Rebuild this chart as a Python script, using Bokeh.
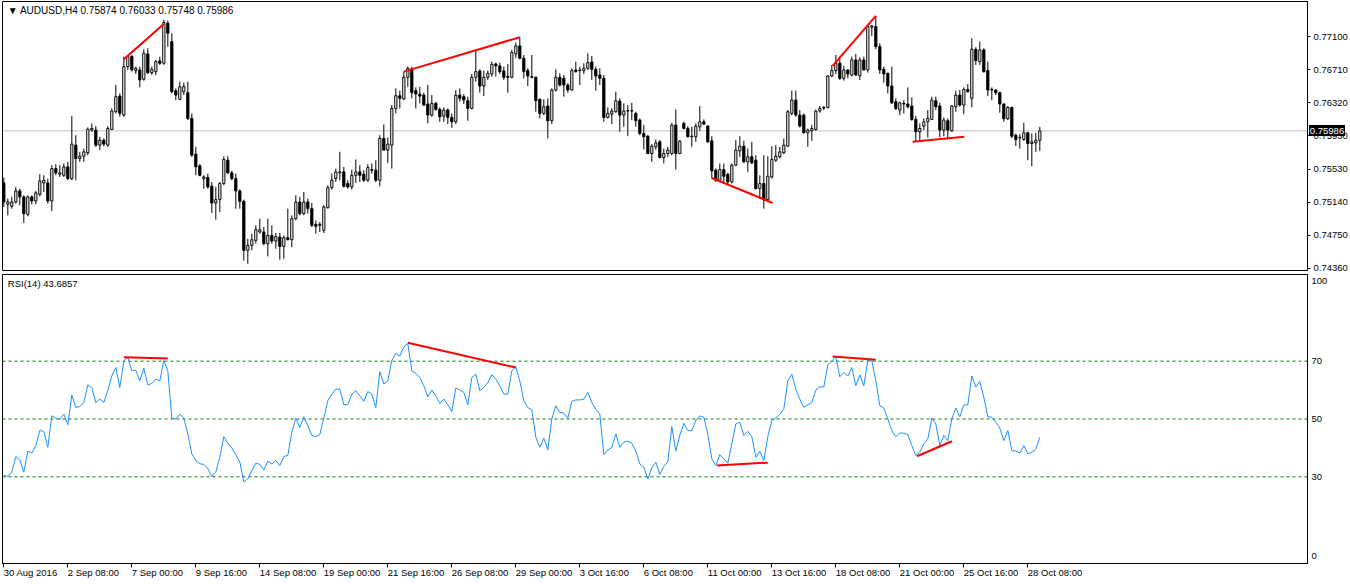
from bokeh.plotting import figure
from bokeh.models import (Range1d, FixedTicker, Span, Label, ColumnDataSource, GridBox, Div)
from bokeh.embed import file_html
from bokeh.resources import INLINE

# ---------------- data ----------------
symbol_title = "\u25BC AUDUSD,H4  0.75874 0.76033 0.75748 0.75986"
rsi_title = "RSI(14) 43.6857"
last_price = 0.75986
last_price_text = "0.75986"

date_tick_bars = [0, 16, 32, 48, 64, 80, 96, 112, 128, 144, 160, 176, 192, 208, 224, 240, 256]
date_labels = ["30 Aug 2016", "2 Sep 08:00", "7 Sep 00:00", "9 Sep 16:00", "14 Sep 08:00",
               "19 Sep 00:00", "21 Sep 16:00", "26 Sep 08:00", "29 Sep 00:00", "3 Oct 16:00",
               "6 Oct 08:00", "11 Oct 00:00", "13 Oct 16:00", "18 Oct 08:00", "21 Oct 00:00",
               "25 Oct 16:00", "28 Oct 08:00"]

price_ticks = [0.74360, 0.74750, 0.75140, 0.75530, 0.75930, 0.76320, 0.76710, 0.77100]
price_tick_labels = ["0.74360", "0.74750", "0.75140", "0.75530", "0.75930", "0.76320", "0.76710", "0.77100"]

rsi_levels = [30, 50, 70]
rsi_ticks = [2.5, 30, 50, 70, 97.6]
rsi_tick_labels = ["0", "30", "50", "70", "100"]

open_ = [0.75370,0.75118,0.75094,0.75145,0.75276,0.75205,0.74999,0.75205,0.75157,0.75236,
0.75370,0.75370,0.75157,0.75540,0.75473,0.75461,0.75560,0.75422,0.75817,0.75659,
0.75686,0.75726,0.75995,0.75995,0.75817,0.75876,0.75817,0.76002,0.76212,0.76397,
0.76172,0.76745,0.76864,0.76698,0.76706,0.76595,0.76895,0.76674,0.76686,0.76812,
0.76785,0.77259,0.77041,0.76461,0.76358,0.76449,0.76437,0.76133,0.75710,0.75572,
0.75422,0.75433,0.75331,0.75133,0.75173,0.75363,0.75639,0.75489,0.75422,0.75276,
0.75153,0.74573,0.74632,0.74691,0.74790,0.74790,0.74652,0.74750,0.74683,0.74731,
0.74620,0.74723,0.74699,0.74948,0.75145,0.75007,0.75145,0.75066,0.74881,0.74869,
0.74810,0.75078,0.75315,0.75422,0.75489,0.75501,0.75363,0.75323,0.75461,0.75501,
0.75473,0.75402,0.75528,0.75521,0.75402,0.75896,0.75758,0.75817,0.76251,0.76401,
0.76362,0.76619,0.76717,0.76461,0.76421,0.76409,0.76303,0.76172,0.76311,0.76239,
0.76160,0.76232,0.76145,0.76093,0.76409,0.76390,0.76342,0.76251,0.76619,0.76694,
0.76516,0.76619,0.76658,0.76777,0.76753,0.76694,0.76627,0.76619,0.76895,0.76990,
0.76844,0.76698,0.76627,0.76619,0.76358,0.76192,0.76279,0.76105,0.76469,0.76619,
0.76607,0.76528,0.76469,0.76706,0.76698,0.76698,0.76725,0.76800,0.76713,0.76646,
0.76607,0.76145,0.76184,0.76212,0.76338,0.76172,0.76224,0.76220,0.76192,0.76113,
0.75955,0.75923,0.75718,0.75797,0.75856,0.75671,0.75718,0.75718,0.76054,0.75718,
0.76074,0.76014,0.75916,0.75916,0.76034,0.76093,0.76042,0.75868,0.75521,0.75402,
0.75528,0.75473,0.75382,0.75580,0.75750,0.75805,0.75619,0.75679,0.75639,0.75303,
0.75363,0.75173,0.75441,0.75639,0.75679,0.75726,0.75805,0.76192,0.76350,0.76172,
0.76172,0.75963,0.75987,0.76002,0.76220,0.76255,0.76263,0.76634,0.76698,0.76785,
0.76607,0.76706,0.76646,0.76824,0.76638,0.76824,0.76706,0.77210,0.77218,0.76982,
0.76713,0.76666,0.76516,0.76330,0.76232,0.76311,0.76303,0.76279,0.76121,0.75975,
0.76042,0.76093,0.76121,0.76342,0.76279,0.75995,0.76105,0.75987,0.76271,0.76409,
0.76291,0.76476,0.76370,0.76950,0.76804,0.76943,0.76698,0.76469,0.76469,0.76437,
0.76303,0.76129,0.76263,0.75935,0.75908,0.75884,0.75963,0.75836,0.75844,0.75874]

high = [0.75433,0.75185,0.75205,0.75323,0.75303,0.75224,0.75224,0.75224,0.75276,0.75473,
0.75461,0.75422,0.75580,0.75592,0.75580,0.75600,0.75619,0.76160,0.75935,0.75738,
0.75777,0.76026,0.76074,0.76042,0.75916,0.75896,0.76042,0.76251,0.76528,0.76429,
0.76864,0.76883,0.76883,0.76745,0.76745,0.76950,0.76962,0.76745,0.76824,0.76864,
0.77298,0.77290,0.77140,0.76488,0.76567,0.76555,0.76567,0.76192,0.75797,0.75592,
0.75461,0.75481,0.75382,0.75323,0.75382,0.75686,0.75686,0.75513,0.75481,0.75295,
0.75173,0.74711,0.74770,0.74869,0.74948,0.74849,0.74948,0.74869,0.74778,0.74778,
0.74750,0.75066,0.74987,0.75224,0.75205,0.75264,0.75185,0.75133,0.74928,0.74908,
0.75106,0.75343,0.75481,0.75540,0.75738,0.75560,0.75402,0.75528,0.75647,0.75580,
0.75521,0.75592,0.75600,0.75639,0.75935,0.76062,0.75908,0.76291,0.76488,0.76461,
0.76686,0.76745,0.76745,0.76500,0.76508,0.76437,0.76528,0.76409,0.76330,0.76263,
0.76263,0.76251,0.76192,0.76469,0.76488,0.76421,0.76390,0.76658,0.76950,0.76713,
0.76698,0.76698,0.76804,0.76792,0.76792,0.76745,0.76777,0.76943,0.77029,0.77093,
0.76883,0.76725,0.76883,0.76627,0.76370,0.76358,0.76370,0.76488,0.76713,0.76666,
0.76646,0.76548,0.76725,0.76804,0.76745,0.76785,0.76903,0.76871,0.76745,0.76725,
0.76646,0.76263,0.76251,0.76449,0.76370,0.76311,0.76291,0.76318,0.76212,0.76133,
0.76054,0.75935,0.75829,0.75884,0.75876,0.75777,0.75797,0.76081,0.76239,0.75876,
0.76093,0.76042,0.76034,0.76074,0.76279,0.76121,0.76054,0.75923,0.75540,0.75600,
0.75600,0.75489,0.75600,0.75876,0.75923,0.75868,0.75777,0.75856,0.75698,0.75461,
0.75698,0.75686,0.75805,0.75817,0.75797,0.75896,0.76232,0.76461,0.76461,0.76232,
0.76192,0.76014,0.76054,0.76239,0.76279,0.76279,0.76646,0.76765,0.76883,0.76844,
0.76753,0.76713,0.76864,0.76895,0.76856,0.76864,0.77226,0.77238,0.77345,0.77021,
0.76745,0.76674,0.76745,0.76370,0.76330,0.76350,0.76500,0.76382,0.76160,0.76074,
0.76133,0.76232,0.76390,0.76390,0.76318,0.76145,0.76133,0.76291,0.76461,0.76469,
0.76500,0.76540,0.77081,0.76974,0.77041,0.76962,0.76804,0.76500,0.76476,0.76449,
0.76311,0.76279,0.76271,0.75955,0.75947,0.76081,0.75975,0.75955,0.75963,0.76033]

low = [0.75086,0.74987,0.75066,0.75126,0.75106,0.74896,0.74975,0.75118,0.75118,0.75212,
0.75264,0.75126,0.75039,0.75461,0.75441,0.75441,0.75402,0.75402,0.75402,0.75619,
0.75619,0.75698,0.75975,0.75797,0.75758,0.75805,0.75797,0.75995,0.76192,0.76153,
0.76153,0.76706,0.76686,0.76658,0.76500,0.76579,0.76658,0.76646,0.76646,0.76765,
0.76765,0.76982,0.76429,0.76350,0.76350,0.76409,0.76113,0.75679,0.75461,0.75449,
0.75303,0.75303,0.75015,0.74936,0.75027,0.75343,0.75481,0.75402,0.75066,0.75066,
0.74454,0.74415,0.74573,0.74652,0.74770,0.74632,0.74501,0.74652,0.74592,0.74462,
0.74474,0.74691,0.74612,0.74928,0.74987,0.74987,0.75007,0.74849,0.74770,0.74790,
0.74778,0.75066,0.75291,0.75382,0.75402,0.75315,0.75303,0.75291,0.75370,0.75382,
0.75382,0.75382,0.75481,0.75382,0.75331,0.75758,0.75607,0.75540,0.76192,0.76251,
0.76350,0.76508,0.76370,0.76251,0.76311,0.76279,0.76074,0.76153,0.76224,0.76093,
0.76093,0.76066,0.76022,0.76066,0.76330,0.76303,0.76105,0.76239,0.76567,0.76437,
0.76397,0.76587,0.76627,0.76627,0.76658,0.76587,0.76437,0.76607,0.76844,0.76832,
0.76607,0.76516,0.76607,0.76212,0.76133,0.76172,0.75896,0.76066,0.76449,0.76508,
0.76390,0.76437,0.76461,0.76674,0.76528,0.76658,0.76706,0.76587,0.76461,0.76528,
0.76093,0.76133,0.76066,0.76200,0.75975,0.76034,0.75923,0.76113,0.76034,0.75935,
0.75765,0.75710,0.75619,0.75765,0.75659,0.75600,0.75679,0.75698,0.75528,0.75710,
0.76002,0.75908,0.75797,0.75856,0.75987,0.76054,0.75844,0.75422,0.75382,0.75382,
0.75363,0.75343,0.75363,0.75568,0.75679,0.75607,0.75501,0.75592,0.75291,0.75185,
0.75066,0.75165,0.75422,0.75619,0.75659,0.75710,0.75797,0.76172,0.76153,0.76026,
0.75955,0.75797,0.75868,0.75987,0.76200,0.76231,0.76251,0.76619,0.76658,0.76587,
0.76579,0.76607,0.76627,0.76634,0.76587,0.76698,0.76674,0.77108,0.76950,0.76658,
0.76555,0.76429,0.76303,0.76232,0.76172,0.76192,0.76251,0.76105,0.75856,0.75868,
0.75995,0.75908,0.76113,0.76232,0.75908,0.75923,0.75896,0.75975,0.76212,0.76271,
0.76184,0.76437,0.76263,0.76765,0.76765,0.76674,0.76397,0.76350,0.76409,0.76200,
0.76093,0.76113,0.75896,0.75805,0.75777,0.75868,0.75639,0.75568,0.75738,0.75748]

close = [0.75145,0.75145,0.75145,0.75276,0.75205,0.75007,0.75205,0.75157,0.75252,0.75394,
0.75402,0.75157,0.75540,0.75489,0.75489,0.75560,0.75422,0.75829,0.75659,0.75686,
0.75738,0.76006,0.76014,0.75817,0.75876,0.75829,0.76014,0.76220,0.76390,0.76192,
0.76745,0.76864,0.76706,0.76725,0.76587,0.76903,0.76674,0.76713,0.76804,0.76785,
0.77266,0.77140,0.76449,0.76409,0.76508,0.76508,0.76133,0.75698,0.75560,0.75461,
0.75441,0.75323,0.75133,0.75173,0.75363,0.75647,0.75489,0.75422,0.75276,0.75153,
0.74573,0.74632,0.74699,0.74817,0.74817,0.74652,0.74750,0.74683,0.74738,0.74620,
0.74723,0.74699,0.74948,0.75145,0.75007,0.75145,0.75066,0.74869,0.74857,0.74881,
0.75086,0.75315,0.75402,0.75501,0.75501,0.75331,0.75323,0.75461,0.75501,0.75461,
0.75402,0.75552,0.75521,0.75402,0.75896,0.75758,0.75829,0.76251,0.76401,0.76370,
0.76619,0.76725,0.76437,0.76421,0.76397,0.76291,0.76172,0.76311,0.76239,0.76153,
0.76232,0.76145,0.76093,0.76409,0.76370,0.76350,0.76251,0.76619,0.76686,0.76516,
0.76619,0.76666,0.76773,0.76753,0.76686,0.76619,0.76619,0.76911,0.76990,0.76844,
0.76686,0.76634,0.76619,0.76342,0.76192,0.76271,0.76105,0.76469,0.76619,0.76528,
0.76528,0.76469,0.76698,0.76686,0.76706,0.76725,0.76792,0.76713,0.76634,0.76607,
0.76145,0.76192,0.76220,0.76342,0.76172,0.76220,0.76220,0.76224,0.76105,0.75955,
0.75916,0.75718,0.75805,0.75844,0.75671,0.75718,0.75758,0.76054,0.75718,0.75864,
0.76014,0.75916,0.75923,0.76042,0.76093,0.76066,0.75856,0.75513,0.75402,0.75528,
0.75449,0.75382,0.75580,0.75758,0.75805,0.75619,0.75679,0.75607,0.75303,0.75363,
0.75173,0.75449,0.75647,0.75686,0.75738,0.75817,0.76212,0.76350,0.76172,0.76042,
0.75963,0.75995,0.76014,0.76220,0.76251,0.76263,0.76634,0.76698,0.76785,0.76607,
0.76706,0.76658,0.76824,0.76646,0.76824,0.76706,0.77218,0.77226,0.76982,0.76706,
0.76658,0.76516,0.76318,0.76251,0.76318,0.76303,0.76271,0.76121,0.75975,0.76014,
0.76093,0.76133,0.76350,0.76271,0.75995,0.76113,0.75995,0.76279,0.76409,0.76291,
0.76476,0.76449,0.76950,0.76816,0.76943,0.76686,0.76469,0.76476,0.76437,0.76303,
0.76129,0.76263,0.75923,0.75884,0.75904,0.75963,0.75836,0.75856,0.75876,0.75986]

rsi = [30.5,30.1,31.6,37.0,35.9,31.6,38.9,38.2,40.8,46.0,
45.7,40.2,51.1,50.3,49.8,51.7,48.0,58.3,54.0,54.3,
55.7,61.8,60.9,55.7,56.9,55.7,59.8,64.9,67.8,60.9,
70.1,71.3,66.7,66.9,63.2,67.6,61.8,62.3,63.8,63.2,
70.3,66.7,50.3,50.0,51.7,50.3,44.8,37.9,35.6,34.5,
34.3,32.8,30.1,31.6,36.8,43.9,41.6,40.0,37.7,35.1,
28.2,29.3,32.2,34.7,34.3,32.4,35.4,34.5,35.6,33.9,
37.0,37.4,45.4,50.3,47.1,50.8,47.7,44.3,43.9,44.6,
50.3,56.3,58.6,60.3,60.3,54.9,55.0,
58.6,59.8,58.0,56.1,59.5,58.6,54.0,66.4,62.1,63.2,
70.3,72.6,71.8,74.9,76.1,66.7,65.7,64.4,61.5,57.7,
60.0,58.0,55.4,56.9,54.9,52.6,60.7,60.0,59.2,54.9,
64.4,65.5,59.8,60.9,62.6,65.3,63.8,61.5,58.6,58.6,
66.7,68.0,63.2,56.3,54.0,53.1,43.7,40.2,43.4,39.3,
50.0,54.6,52.3,52.0,50.3,56.1,56.6,56.6,56.9,59.2,
55.7,53.4,51.7,37.7,39.3,40.2,44.8,40.2,42.0,42.3,
41.6,38.9,34.5,33.3,29.3,33.1,35.1,30.8,33.6,35.1,
47.4,38.9,44.3,48.5,46.0,46.0,49.5,
51.1,50.6,44.8,36.2,33.9,37.7,36.2,34.7,41.4,48.3,
48.9,44.3,45.7,43.9,36.8,38.9,35.6,43.9,49.4,50.3,
51.7,53.4,63.2,65.5,60.3,56.9,54.0,54.9,55.7,60.0,
61.1,61.1,68.7,70.1,71.5,64.6,66.1,64.9,67.8,61.5,
65.3,61.5,70.3,70.1,63.2,54.6,53.8,50.0,46.0,43.9,
45.1,45.1,44.6,40.8,37.4,38.5,41.4,43.1,50.3,48.3,
40.8,44.3,42.5,50.0,53.8,50.8,54.9,54.9,64.9,61.1,
63.0,57.5,50.8,50.6,48.9,46.9,42.5,46.0,39.1,38.9,
38.2,40.8,37.9,38.5,39.6,43.6857]

# divergence trend lines (bar index, value)
div_price_x0 = [30, 100, 177, 207.2, 227.2]
div_price_y0 = [0.76832, 0.76686, 0.75429, 0.76753, 0.75856]
div_price_x1 = [40, 129, 192.2, 218, 240.1]
div_price_y1 = [0.77250, 0.77093, 0.75133, 0.77345, 0.75916]

div_rsi_x0 = [30, 101, 178.3, 207.2, 228.3]
div_rsi_y0 = [71.4, 76.4, 33.9, 71.6, 37.1]
div_rsi_x1 = [41, 128, 191, 218, 237]
div_rsi_y1 = [70.9, 67.8, 34.9, 70.5, 42.3]

n = len(close)
assert len(open_) == n and len(high) == n and len(low) == n and len(rsi) == n

# ---------------- styling ----------------
FONT = "Liberation Sans"
FS = "9.5px"
FRAME_W = 1305
BORDER_L = 2
BORDER_R = 42
P1_TOP = 1
P1_FRAME_H = 269
PRICE_LO, PRICE_HI = 0.74335, 0.77515

bars = list(range(n))
up = [c >= o for o, c in zip(open_, close)]
src = ColumnDataSource(dict(
    x=bars, o=open_, h=high, l=low, c=close,
    top=[max(o, c) for o, c in zip(open_, close)],
    bot=[min(o, c) for o, c in zip(open_, close)],
    fill=["white" if u else "black" for u in up],
))

X_START = -0.33
X_END = X_START + FRAME_W / 4.0
xr = Range1d(X_START, X_END)


def style_axis(ax):
    ax.minor_tick_out = 0
    ax.minor_tick_in = 0
    ax.major_tick_in = 0
    ax.axis_line_color = "black"
    ax.major_tick_line_color = "black"
    ax.major_label_text_font = FONT
    ax.major_label_text_font_size = FS
    ax.major_label_text_color = "black"


# ---------------- price panel ----------------
p1 = figure(frame_width=FRAME_W, frame_height=P1_FRAME_H, x_range=xr,
            y_range=Range1d(PRICE_LO, PRICE_HI),
            output_backend="svg", toolbar_location=None,
            x_axis_location=None, y_axis_location="right",
            min_border_left=BORDER_L, min_border_right=BORDER_R,
            min_border_top=P1_TOP, min_border_bottom=3)
p1.outline_line_color = "black"
p1.outline_line_width = 1
p1.xgrid.visible = False
p1.ygrid.visible = False
p1.background_fill_color = "white"
p1.border_fill_color = "white"

ya = p1.yaxis[0]
style_axis(ya)
ya.ticker = FixedTicker(ticks=price_ticks)
ya.major_label_overrides = {t: s for t, s in zip(price_ticks, price_tick_labels)}
ya.major_tick_out = 3
ya.major_label_standoff = 3

p1.add_layout(Span(location=last_price, dimension="width", line_color="#c0c0c0",
                   line_width=1, level="underlay"))

p1.segment(x0="x", y0="l", x1="x", y1="h", source=src, line_color="black", line_width=1)
p1.vbar(x="x", top="top", bottom="bot", width=0.55, source=src,
        fill_color="fill", line_color="black", line_width=1)

p1.segment(x0=div_price_x0, y0=div_price_y0, x1=div_price_x1, y1=div_price_y1,
           line_color="red", line_width=2)

p1.add_layout(Label(x=1.0, y=0.77412, text=symbol_title, text_font=FONT,
                    text_font_size="10px", text_color="black", text_baseline="middle"))

# ---------------- current price marker (overlaid on the price axis) ----------------
BOX_W, BOX_H = 36, 11
box_cy = P1_TOP + (PRICE_HI - last_price) / (PRICE_HI - PRICE_LO) * P1_FRAME_H
pbox = Div(text=last_price_text, width=BOX_W, height=BOX_H,
           styles={"background-color": "black", "color": "white",
                   "font-family": FONT, "font-size": FS, "line-height": f"{BOX_H}px",
                   "text-align": "center", "overflow": "hidden", "padding": "0"})
pbox.align = "start"
pbox.margin = (int(round(box_cy - BOX_H / 2)), 0, 0, BORDER_L + FRAME_W + 2)

# ---------------- RSI panel ----------------
p2 = figure(frame_width=FRAME_W, frame_height=289, x_range=xr,
            y_range=Range1d(0, 100),
            output_backend="svg", toolbar_location=None,
            y_axis_location="right",
            min_border_left=BORDER_L, min_border_right=BORDER_R,
            min_border_top=1, min_border_bottom=20)
p2.outline_line_color = "black"
p2.outline_line_width = 1
p2.xgrid.visible = False
p2.ygrid.visible = False
p2.background_fill_color = "white"
p2.border_fill_color = "white"

ra = p2.yaxis[0]
style_axis(ra)
ra.ticker = FixedTicker(ticks=rsi_ticks)
ra.major_label_overrides = {t: s for t, s in zip(rsi_ticks, rsi_tick_labels)}
ra.major_tick_out = 0
ra.major_label_standoff = 4

xa = p2.xaxis[0]
style_axis(xa)
xa.ticker = FixedTicker(ticks=date_tick_bars)
xa.major_label_overrides = {t: s for t, s in zip(date_tick_bars, date_labels)}
xa.major_tick_out = 4
xa.major_label_standoff = 5
xa.major_label_orientation = -0.0001

for lvl in rsi_levels:
    p2.add_layout(Span(location=lvl, dimension="width", line_color="#008000",
                       line_width=1, line_dash="3 3", level="underlay"))

p2.line(bars, rsi, line_color="#1E90FF", line_width=1)
p2.segment(x0=div_rsi_x0, y0=div_rsi_y0, x1=div_rsi_x1, y1=div_rsi_y1,
           line_color="red", line_width=2)

p2.add_layout(Label(x=1.0, y=97.0, text=rsi_title, text_font=FONT,
                    text_font_size=FS, text_color="black", text_baseline="middle"))

layout = GridBox(children=[(p1, 0, 0), (p2, 1, 0), (pbox, 0, 0)], spacing=0)
open("out.html", "w").write(file_html(layout, INLINE))
